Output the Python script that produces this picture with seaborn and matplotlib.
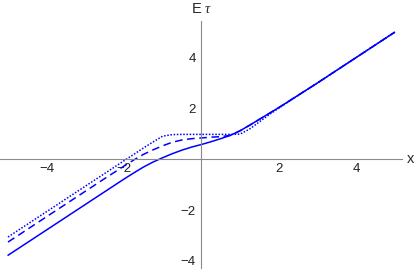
import matplotlib
matplotlib.use("Agg")
import matplotlib.pyplot as plt
from matplotlib.ticker import FixedLocator, FuncFormatter
import seaborn as sns
import numpy as np
import pandas as pd

# values
x_vals = [-5, -4, -3, -2.5, -2, -1.75, -1.5, -1.25, -1, -0.75, -0.5, -0.25, 0,
          0.25, 0.5, 0.75, 1, 1.25, 1.5, 1.75, 2, 3, 4, 5]
y_solid = [-3.78, -2.78, -1.78, -1.28, -0.78, -0.54, -0.31, -0.11, 0.06, 0.22, 0.36,
           0.48, 0.58, 0.69, 0.81, 0.94, 1.12, 1.34, 1.57, 1.8, 2.03, 3.0, 4.0, 5.0]
y_dashed = [-3.26, -2.26, -1.26, -0.76, -0.27, -0.03, 0.19, 0.37, 0.53, 0.67, 0.76,
            0.81, 0.84, 0.87, 0.89, 0.94, 1.12, 1.34, 1.57, 1.8, 2.03, 3.0, 4.0, 5.0]
y_dotted = [-3.06, -2.06, -1.06, -0.56, -0.06, 0.19, 0.44, 0.68, 0.91, 0.97, 0.98,
            0.98, 0.98, 0.98, 0.98, 0.98, 0.99, 1.19, 1.47, 1.75, 2.01, 3.0, 4.0, 5.0]
x_ticks = [-4, -2, 2, 4]
y_ticks = [-4, -2, 2, 4]

df = pd.DataFrame({"x": x_vals, "solid": y_solid, "dashed": y_dashed, "dotted": y_dotted})

sns.set_style("white")
plt.rcParams["font.family"] = ["Liberation Sans", "DejaVu Sans"]
plt.rcParams["mathtext.fontset"] = "custom"
plt.rcParams["mathtext.it"] = "Liberation Serif:italic"

fig = plt.figure(figsize=(4.15, 2.69), dpi=100)
ax = fig.add_axes([0, 0, 1, 1])

sns.lineplot(data=df, x="x", y="solid", ax=ax, color="blue", lw=1.1)
sns.lineplot(data=df, x="x", y="dashed", ax=ax, color="blue", lw=1.1, dashes=(5, 3))
sns.lineplot(data=df, x="x", y="dotted", ax=ax, color="blue", lw=1.1, dashes=(1, 1.1))

ax.set_xlim(-5.207, 5.528)
ax.set_ylim(-4.32, 6.27)
ax.set_xlabel("")
ax.set_ylabel("")

# axes through the origin, Mathematica style
ax.spines["left"].set_position(("data", 0))
ax.spines["bottom"].set_position(("data", 0))
ax.spines["right"].set_visible(False)
ax.spines["top"].set_visible(False)
ax.spines["left"].set_bounds(-4.32, 5.45)
ax.spines["bottom"].set_bounds(-5.207, 5.18)
for s in ["left", "bottom"]:
    ax.spines[s].set_color("#8a8a8a")
    ax.spines[s].set_linewidth(0.8)

ax.xaxis.set_major_locator(FixedLocator(x_ticks))
ax.yaxis.set_major_locator(FixedLocator(y_ticks))
ax.xaxis.set_minor_locator(FixedLocator(np.arange(-5, 5.01, 0.5)))
ax.yaxis.set_minor_locator(FixedLocator(np.arange(-4, 5.01, 0.5)))
fmt = FuncFormatter(lambda v, p: f"{v:.0f}".replace("-", "\u2212"))
ax.xaxis.set_major_formatter(fmt)
ax.yaxis.set_major_formatter(fmt)
ax.tick_params(which="major", direction="in", length=3.2, width=0.7, color="#8a8a8a",
               labelsize=9.5, labelcolor="#222222")
ax.tick_params(which="minor", direction="in", length=1.8, width=0.6, color="#8a8a8a")
ax.tick_params(axis="x", pad=3)
ax.tick_params(axis="y", pad=4)

ax.text(5.41, 0, "x", ha="center", va="center", fontsize=10.5)
ax.text(0, 5.93, "E $\\it{\\tau}$", ha="center", va="center", fontsize=10.5)

fig.savefig("out.png", dpi=100)
